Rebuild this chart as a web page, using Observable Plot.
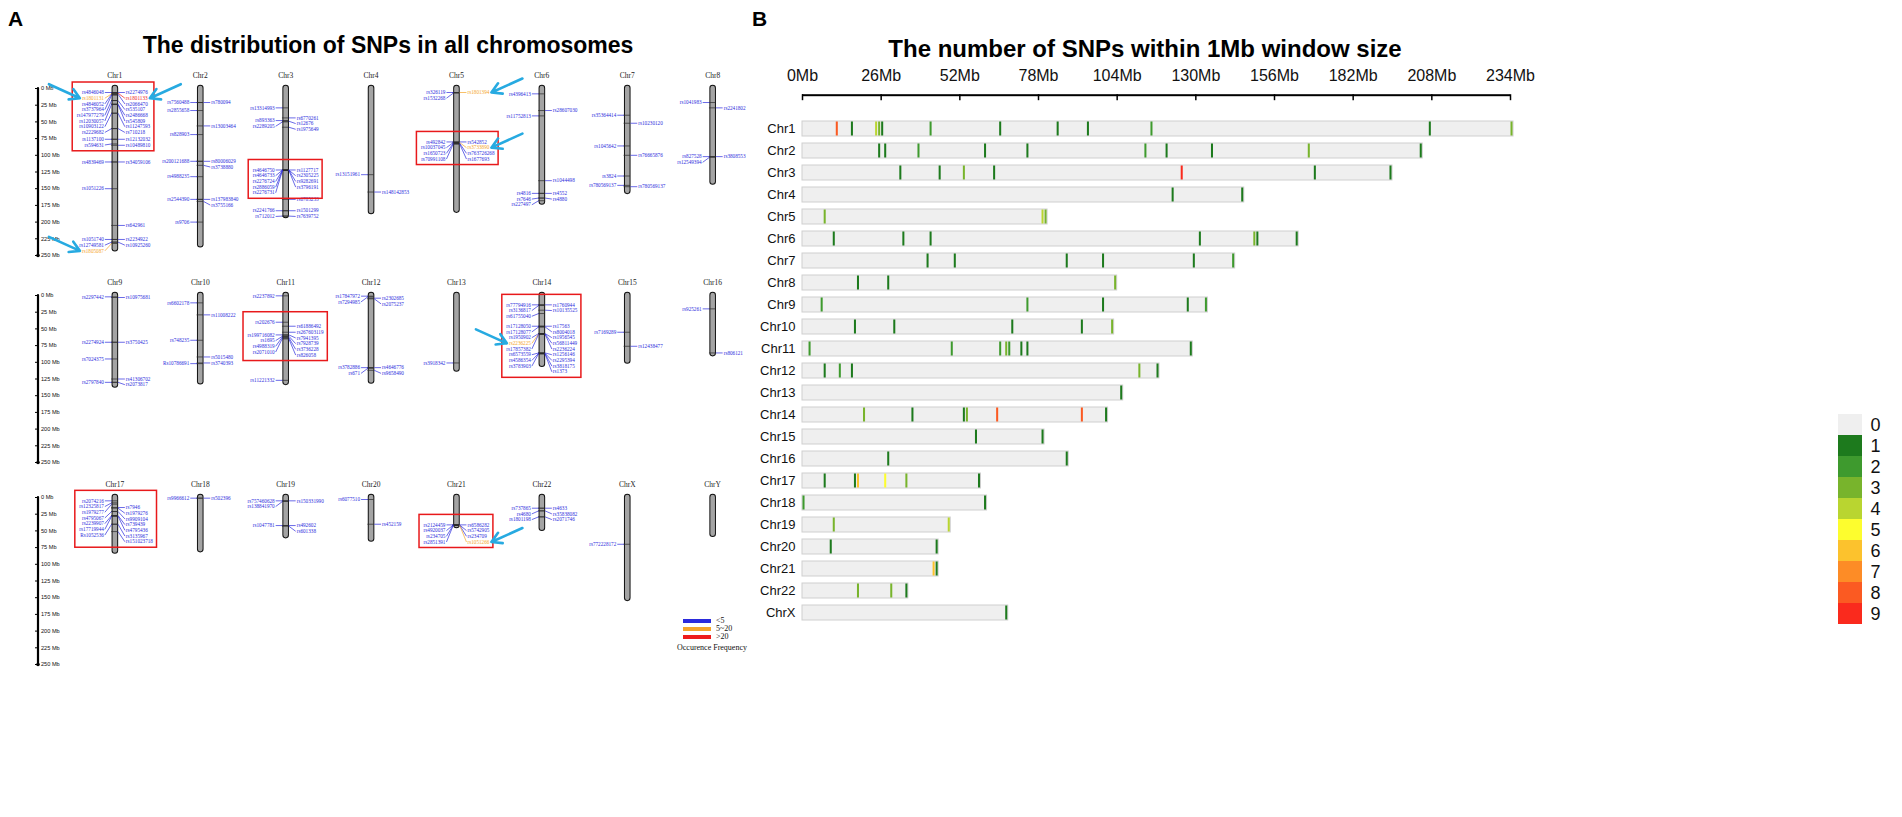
<!DOCTYPE html>
<html>
<head>
<meta charset="utf-8">
<script src="https://cdn.jsdelivr.net/npm/d3@7"></script>
<script src="https://cdn.jsdelivr.net/npm/@observablehq/plot@0.6"></script>
<style>
html, body { margin: 0; padding: 0; background: #ffffff; }
#root { position: relative; width: 1902px; height: 817px; overflow: hidden; background: #fff; font-family: "Liberation Sans", Arial, sans-serif; }
#root > * { position: absolute; }
.letter { font: bold 21px "Liberation Sans", Arial, sans-serif; line-height: 1; }
.title { font: bold 23px "Liberation Sans", Arial, sans-serif; white-space: nowrap; line-height: 1; transform: translateX(-50%); }
svg { overflow: visible; }
</style>
</head>
<body>
<div id="root"></div>
<script>
// ================= DATA : panel A (ideogram) =================
const chromosomes = ["Chr1","Chr2","Chr3","Chr4","Chr5","Chr6","Chr7","Chr8",
  "Chr9","Chr10","Chr11","Chr12","Chr13","Chr14","Chr15","Chr16",
  "Chr17","Chr18","Chr19","Chr20","Chr21","Chr22","ChrX","ChrY"];
const chromLengthsMb = [240, 234, 190, 184, 182, 170, 154, 140,
  134, 129, 130, 128, 110, 103, 98, 87,
  80, 78, 57, 62, 42, 46, 151, 55];
const scaleTicksMb = [0, 25, 50, 75, 100, 125, 150, 175, 200, 225, 250];

// [chromosome, SNP, position (Mb), side of the label]
const snpRows = [
  ["Chr1","rs4846048",6,"L"],["Chr1","rs1801131",8,"L"],["Chr1","rs4846052",8.5,"L"],["Chr1","rs3737964",10,"L"],
  ["Chr1","rs147977279",18,"L"],["Chr1","rs12030057",23.5,"L"],["Chr1","rs10903122",37,"L"],["Chr1","rs2229682",60,"L"],
  ["Chr1","rs1137100",76,"L"],["Chr1","rs594631",83,"L"],
  ["Chr1","rs2274976",6,"R"],["Chr1","rs1801133",7,"R"],["Chr1","rs2066470",8.5,"R"],["Chr1","rs535107",18,"R"],
  ["Chr1","rs2486668",23.5,"R"],["Chr1","rs545809",24,"R"],["Chr1","rs11247593",37,"R"],["Chr1","rs710218",60,"R"],
  ["Chr1","rs12132032",76,"R"],["Chr1","rs10489810",85,"R"],
  ["Chr1","rs4839469",110,"L"],["Chr1","rs34059106",110,"R"],["Chr1","rs1051226",150,"L"],["Chr1","rs642961",205,"R"],
  ["Chr1","rs1051740",226,"L"],["Chr1","rs12749581",230,"L"],["Chr1","rs1805087",232,"L"],
  ["Chr1","rs2234922",226,"R"],["Chr1","rs10925260",230,"R"],
  ["Chr2","rs7560488",21,"L"],["Chr2","rs780094",21,"R"],["Chr2","rs2855658",33,"L"],["Chr2","rs13003464",56,"R"],
  ["Chr2","rs828903",69,"L"],["Chr2","rs200121688",109,"L"],["Chr2","rs80006029",109,"R"],["Chr2","rs3738880",115,"R"],
  ["Chr2","rs4988235",132,"L"],["Chr2","rs2544390",166,"L"],["Chr2","rs137983840",166,"R"],["Chr2","rs3755166",169,"R"],
  ["Chr2","rs9706",200,"L"],
  ["Chr3","rs13314993",29,"L"],["Chr3","rs893363",48,"L"],["Chr3","rs2289205",50,"L"],
  ["Chr3","rs6770261",44,"R"],["Chr3","rs12676",49,"R"],["Chr3","rs1975649",58,"R"],
  ["Chr3","rs4646750",122,"L"],["Chr3","rs4646733",122.2,"L"],["Chr3","rs2276724",122.4,"L"],["Chr3","rs2886059",122.6,"L"],["Chr3","rs2276731",122.8,"L"],
  ["Chr3","rs1127717",122,"R"],["Chr3","rs2305225",122.2,"R"],["Chr3","rs9282691",122.4,"R"],["Chr3","rs3796191",122.6,"R"],
  ["Chr3","rs6785233",166,"R"],["Chr3","rs2241766",183,"L"],["Chr3","rs712012",191,"L"],
  ["Chr3","rs1501299",183,"R"],["Chr3","rs7639752",191,"R"],
  ["Chr4","rs13151961",129,"L"],["Chr4","rs148142853",155,"R"],
  ["Chr5","rs326119",6,"L"],["Chr5","rs1532268",7,"L"],["Chr5","rs1801394",6,"R"],
  ["Chr5","rs492842",80,"L"],["Chr5","rs10037045",81,"L"],["Chr5","rs1650723",82,"L"],["Chr5","rs70991108",83,"L"],
  ["Chr5","rs542852",80,"R"],["Chr5","rs3733890",81,"R"],["Chr5","rs763726268",82,"R"],["Chr5","rs1677693",83,"R"],
  ["Chr6","rs4396413",8,"L"],["Chr6","rs28607030",33,"R"],["Chr6","rs11752813",41,"L"],["Chr6","rs1044498",138,"R"],
  ["Chr6","rs4816",157,"L"],["Chr6","rs4552",157,"R"],["Chr6","rs7646",164,"L"],["Chr6","rs4880",164,"R"],["Chr6","rs227497",168,"L"],
  ["Chr7","rs35364414",40,"L"],["Chr7","rs10230120",52,"R"],["Chr7","rs1045642",86,"L"],["Chr7","rs76665876",100,"R"],
  ["Chr7","rs3824",131,"L"],["Chr7","rs780569137",145,"L"],["Chr7","rs780569137",147,"R"],
  ["Chr8","rs1041983",21,"L"],["Chr8","rs2241802",29,"R"],["Chr8","rs827528",102,"L"],["Chr8","rs12549394",103,"L"],["Chr8","rs3808553",102,"R"],
  ["Chr9","rs2297442",2,"L"],["Chr9","rs10975681",3,"R"],["Chr9","rs2274924",70,"L"],["Chr9","rs3750425",70,"R"],
  ["Chr9","rs7024375",95,"L"],["Chr9","rs41306702",125,"R"],["Chr9","rs2797840",130,"L"],["Chr9","rs2073817",130,"R"],
  ["Chr10","rs6602178",11,"L"],["Chr10","rs11008222",29,"R"],["Chr10","rs748235",67,"L"],["Chr10","rs5015480",92,"R"],
  ["Chr10","Rs10786691",102,"L"],["Chr10","rs3740393",101,"R"],
  ["Chr11","rs2237892",0.5,"L"],["Chr11","rs202676",40,"L"],["Chr11","rs199716082",59,"L"],["Chr11","rs1695",61,"L"],
  ["Chr11","rs4988319",62,"L"],["Chr11","rs2071010",64,"L"],
  ["Chr11","rs61886492",46,"R"],["Chr11","rs267603119",55,"R"],["Chr11","rs7941395",59,"R"],["Chr11","rs7928739",61,"R"],
  ["Chr11","rs3736228",63,"R"],["Chr11","rs826058",65,"R"],["Chr11","rs11221332",127,"L"],
  ["Chr12","rs17847972",1,"L"],["Chr12","rs7294985",2,"L"],["Chr12","rs2302685",4,"R"],["Chr12","rs2075237",5,"R"],
  ["Chr12","rs3782886",108,"L"],["Chr12","rs671",109,"L"],["Chr12","rs4646776",108,"R"],["Chr12","rs9658490",112,"R"],
  ["Chr13","rs3918342",101,"L"],
  ["Chr14","rs77794916",14,"L"],["Chr14","rs3136817",15,"L"],["Chr14","rs61755040",27,"L"],["Chr14","rs17128050",46,"L"],
  ["Chr14","rs17128077",47,"L"],["Chr14","rs1950902",57,"L"],["Chr14","rs2236225",57.5,"L"],["Chr14","rs17857382",58,"L"],
  ["Chr14","rs6573559",86,"L"],["Chr14","rs4586354",86.5,"L"],["Chr14","rs3783903",87,"L"],
  ["Chr14","rs1760944",14,"R"],["Chr14","rs10135525",22,"R"],["Chr14","rs17563",46,"R"],["Chr14","rs8004018",47,"R"],
  ["Chr14","rs1956545",57,"R"],["Chr14","rs56811449",57.5,"R"],["Chr14","rs2236224",58,"R"],["Chr14","rs1256146",86,"R"],
  ["Chr14","rs2295394",86.5,"R"],["Chr14","rs3818175",87,"R"],["Chr14","rs1373",87.5,"R"],
  ["Chr15","rs7169289",55,"L"],["Chr15","rs12438477",76,"R"],
  ["Chr16","rs925261",20,"L"],["Chr16","rs806121",86,"R"],
  ["Chr17","rs2074216",5,"L"],["Chr17","rs12325817",8,"L"],["Chr17","rs1979277",10,"L"],["Chr17","rs4795067",21,"L"],
  ["Chr17","rs2239907",27,"L"],["Chr17","rs17719944",28,"L"],["Chr17","Rs1052536",40,"L"],
  ["Chr17","rs7946",15,"R"],["Chr17","rs1979276",16,"R"],["Chr17","rs9909104",21,"R"],["Chr17","rs739439",27,"R"],
  ["Chr17","rs4795436",28,"R"],["Chr17","rs3135967",40,"R"],["Chr17","rs151023718",51,"R"],
  ["Chr18","rs9966612",1,"L"],["Chr18","rs502396",1,"R"],
  ["Chr19","rs757460628",5,"L"],["Chr19","rs138841970",6,"L"],["Chr19","rs150331990",5,"R"],
  ["Chr19","rs1047781",42,"L"],["Chr19","rs492602",42,"R"],["Chr19","rs601338",43,"R"],
  ["Chr20","rs6077510",3,"L"],["Chr20","rs452159",40,"R"],
  ["Chr21","rs2124459",41,"L"],["Chr21","rs4920037",41.2,"L"],["Chr21","rs234705",41.4,"L"],["Chr21","rs2851391",41.6,"L"],
  ["Chr21","rs6586282",41,"R"],["Chr21","rs5742905",41.2,"R"],["Chr21","rs234709",41.4,"R"],["Chr21","rs1051266",41.6,"R"],
  ["Chr22","rs737865",16,"L"],["Chr22","rs4680",20,"L"],["Chr22","rs1801198",29,"L"],
  ["Chr22","rs4633",16,"R"],["Chr22","rs35838082",20,"R"],["Chr22","rs2071746",29,"R"],
  ["ChrX","rs772228172",70,"L"]
];
const snps5to20 = ["rs1801131","rs1805087","rs1801394","rs3733890","rs2236225","rs1051266"];
const snpsOver20 = ["rs1801133"];
const arrowedSnps = ["rs1801131","rs1801133","rs1805087","rs1801394","rs3733890","rs2236225","rs1051266"];
// [chromosome, from Mb, to Mb] clusters that are framed in red
const boxedClusters = [["Chr1",0,100],["Chr3",115,130],["Chr5",75,90],["Chr11",35,70],["Chr14",10,95],["Chr17",0,55],["Chr21",38,45]];
const freqClasses = ["<5","5~20",">20"];
const freqColors = ["#2b2bdc","#f5a52a","#ee1c1c"];

// ================= DATA : panel B (1 Mb windows) =================
const densityChroms = ["Chr1","Chr2","Chr3","Chr4","Chr5","Chr6","Chr7","Chr8","Chr9","Chr10","Chr11",
  "Chr12","Chr13","Chr14","Chr15","Chr16","Chr17","Chr18","Chr19","Chr20","Chr21","Chr22","ChrX"];
const mbTicks = [0, 26, 52, 78, 104, 130, 156, 182, 208, 234];
const countLevels = [0,1,2,3,4,5,6,7,8,9];
const countColors = ["#efefef","#1d7a1d","#3e9a2e","#78b42c","#b9d530","#fdfd2e","#fcc22d","#fd8c26","#fb5a22","#fa2a1d"];
// [chromosome, window start (Mb), number of SNPs]
const densityBins = [
  ["Chr1",11,8],["Chr1",16,1],["Chr1",24,4],["Chr1",25,3],["Chr1",26,1],["Chr1",42,2],["Chr1",65,1],["Chr1",84,1],
  ["Chr1",94,1],["Chr1",115,2],["Chr1",207,1],["Chr1",234,3],
  ["Chr2",25,1],["Chr2",27,1],["Chr2",38,2],["Chr2",60,1],["Chr2",74,1],["Chr2",113,2],["Chr2",120,1],["Chr2",135,1],
  ["Chr2",167,3],["Chr2",204,1],
  ["Chr3",32,1],["Chr3",45,1],["Chr3",53,3],["Chr3",63,1],["Chr3",125,9],["Chr3",169,1],["Chr3",194,1],
  ["Chr4",122,1],["Chr4",145,1],
  ["Chr5",7,3],["Chr5",79,4],["Chr5",80,3],
  ["Chr6",10,1],["Chr6",33,1],["Chr6",42,1],["Chr6",131,1],["Chr6",149,3],["Chr6",150,1],["Chr6",163,1],
  ["Chr7",41,1],["Chr7",50,1],["Chr7",87,1],["Chr7",99,1],["Chr7",129,1],["Chr7",142,2],
  ["Chr8",18,1],["Chr8",28,1],["Chr8",103,3],
  ["Chr9",6,2],["Chr9",74,2],["Chr9",99,1],["Chr9",127,1],["Chr9",133,2],
  ["Chr10",17,1],["Chr10",30,1],["Chr10",69,1],["Chr10",92,1],["Chr10",102,3],
  ["Chr11",2,2],["Chr11",49,2],["Chr11",65,2],["Chr11",67,3],["Chr11",68,2],["Chr11",72,1],["Chr11",74,1],["Chr11",128,1],
  ["Chr12",7,1],["Chr12",12,2],["Chr12",16,1],["Chr12",111,3],["Chr12",117,1],
  ["Chr13",105,1],
  ["Chr14",20,3],["Chr14",36,1],["Chr14",53,1],["Chr14",54,3],["Chr14",64,8],["Chr14",92,8],["Chr14",100,1],
  ["Chr15",57,1],["Chr15",79,1],
  ["Chr16",28,1],["Chr16",87,1],
  ["Chr17",7,1],["Chr17",17,1],["Chr17",18,6],["Chr17",27,5],["Chr17",34,3],["Chr17",58,1],
  ["Chr18",0,2],["Chr18",60,1],
  ["Chr19",10,3],["Chr19",48,4],
  ["Chr20",9,1],["Chr20",44,1],
  ["Chr21",43,6],["Chr21",44,1],
  ["Chr22",18,3],["Chr22",29,3],["Chr22",34,1],
  ["ChrX",67,1]
];

// ================= layout =================
const root = document.getElementById("root");
function addDiv(text, cls, left, top, extra = "") {
  const d = document.createElement("div");
  d.textContent = text; d.className = cls;
  d.style.cssText += `left:${left}px;top:${top}px;${extra}`;
  root.appendChild(d); return d;
}
function addNode(node, left, top) {
  node.style.position = "absolute"; node.style.left = left + "px"; node.style.top = top + "px";
  root.appendChild(node); return node;
}

addDiv("A", "letter", 8, 8);
addDiv("B", "letter", 752, 8);
addDiv("The distribution of SNPs in all chromosomes", "title", 388, 34);
addDiv("The number of SNPs within 1Mb window size", "title", 1145, 37, "font-size:24px;");

// ---------- Panel A ----------
const colPx = 85.4, scaleCol = -0.9, x0px = 37.5;
const mbPx = 0.668, yTop = 26;
const rowTops = [62.2, 268.8, 471.2];
const labelFont = 5.2, gapPx = 5.7, chromHalfPx = 3.2, labelGapPx = 11;
const gapMb = gapPx / mbPx;
const textWidth = id => labelFont * (0.72 + (id.length - 2) * 0.5);
const freqOf = id => snpsOver20.includes(id) ? 2 : snps5to20.includes(id) ? 1 : 0;

const snps = snpRows.map(([chr, id, pos, side]) => {
  const ci = chromosomes.indexOf(chr);
  return {chr, id, pos, side, row: Math.floor(ci / 8), col: ci % 8, w: textWidth(id), color: freqColors[freqOf(id)], s: side === "L" ? -1 : 1};
});
d3.group(snps, d => d.chr, d => d.side).forEach(bySide => bySide.forEach(list => {
  list.sort((a, b) => a.pos - b.pos);
  let prev = -Infinity;
  for (const d of list) { d.ly = Math.max(d.pos, prev + gapMb); prev = d.ly; }
}));

const boxes = boxedClusters.map(([chr, from, to]) => {
  const ci = chromosomes.indexOf(chr), col = ci % 8;
  const m = snps.filter(d => d.chr === chr && d.pos >= from && d.pos <= to);
  const lw = d3.max(m.filter(d => d.side === "L"), d => d.w) ?? 0;
  const rw = d3.max(m.filter(d => d.side === "R"), d => d.w) ?? 0;
  return {row: Math.floor(ci / 8),
    x1: col - (labelGapPx + lw + 4) / colPx, x2: col + (labelGapPx + rw + 4) / colPx,
    y1: d3.min(m, d => Math.min(d.pos, d.ly)) - 10 / mbPx, y2: d3.max(m, d => d.ly) + 6 / mbPx};
});
const arrows = snps.filter(d => arrowedSnps.includes(d.id)).map(d => {
  const tip = d.col + d.s * (labelGapPx + d.w + 2) / colPx;
  return {row: d.row, x2: tip, y2: d.ly, x1: tip + d.s * 31 / colPx, y1: d.ly - 14 / mbPx};
});

function rowPlot(r) {
  const chroms = chromosomes.map((name, i) => ({name, i, len: chromLengthsMb[i], col: i % 8}))
    .filter(d => Math.floor(d.i / 8) === r);
  const rs = snps.filter(d => d.row === r);
  const labelOpts = {x: d => d.col + d.s * labelGapPx / colPx, y: "ly", text: "id", fill: "color", fontSize: labelFont, fontFamily: "Liberation Serif"};
  return Plot.plot({
    width: 790, height: 215, margin: 0,
    x: {domain: [scaleCol, 7], range: [x0px, x0px + (7 - scaleCol) * colPx], axis: null},
    y: {domain: [0, 250], range: [yTop, yTop + 250 * mbPx], axis: null},
    style: {background: "transparent", overflow: "visible"},
    marks: [
      // scale bar
      Plot.ruleX([scaleCol], {y1: () => d3.min(scaleTicksMb), y2: () => d3.max(scaleTicksMb), stroke: "black", strokeWidth: 2.2, strokeLinecap: "round"}),
      Plot.ruleY(scaleTicksMb, {y: d => d, x1: scaleCol - 2.5 / colPx, x2: scaleCol, stroke: "black", strokeWidth: 1}),
      Plot.dot([d3.max(scaleTicksMb)], {x: scaleCol, y: d => d, r: 1.8, fill: "black"}),
      Plot.text(scaleTicksMb, {x: scaleCol, y: d => d, text: d => `${d} Mb`, dx: 3, textAnchor: "start", fontSize: 5.6, fontFamily: "Liberation Sans", fill: "#111"}),
      // chromosome names and bodies
      Plot.text(chroms, {x: "col", y: () => 0, text: "name", dy: -13, fontSize: 7.5, fontFamily: "Liberation Serif", fill: "#222"}),
      Plot.ruleX(chroms, {x: "col", y1: () => 0, y2: "len", stroke: "#111", strokeWidth: 6.6, strokeLinecap: "round"}),
      Plot.ruleX(chroms, {x: "col", y1: () => 0, y2: "len", stroke: "#a4a4a4", strokeWidth: 4.6, strokeLinecap: "round"}),
      // SNP positions on the chromosome
      Plot.ruleY(rs, {y: "pos", x1: d => d.col - chromHalfPx / colPx, x2: d => d.col + chromHalfPx / colPx, stroke: "#2a2a2a", strokeWidth: 0.7}),
      // leaders + labels
      Plot.link(rs, {x1: d => d.col + d.s * chromHalfPx / colPx, y1: "pos", x2: d => d.col + d.s * (labelGapPx - 1) / colPx, y2: "ly", stroke: "color", strokeWidth: 0.7}),
      Plot.text(rs.filter(d => d.side === "L"), {...labelOpts, textAnchor: "end"}),
      Plot.text(rs.filter(d => d.side === "R"), {...labelOpts, textAnchor: "start"}),
      // red frames and cyan arrows
      Plot.rect(boxes.filter(b => b.row === r), {x1: "x1", x2: "x2", y1: "y1", y2: "y2", fill: "none", stroke: "#e8191b", strokeWidth: 1.5}),
      Plot.arrow(arrows.filter(a => a.row === r), {x1: "x1", y1: "y1", x2: "x2", y2: "y2", stroke: "#27aae1", strokeWidth: 2.6, headLength: 8})
    ]
  });
}
rowTops.forEach((top, r) => addNode(rowPlot(r), 0, top));

// legend of panel A
const leg = document.createElement("div");
leg.style.cssText = "font-family:'Liberation Serif',serif;font-size:8px;color:#111;line-height:8px;";
freqClasses.forEach((c, i) => {
  const row = document.createElement("div");
  row.style.cssText = "display:flex;align-items:center;height:8px;";
  row.innerHTML = `<span style="display:inline-block;width:28px;height:3.5px;background:${freqColors[i]};margin-right:5px"></span><span>${c}</span>`;
  leg.appendChild(row);
});
const legT = document.createElement("div");
legT.textContent = "Occurence Frequency";
legT.style.cssText = "margin-left:-6px;margin-top:3px;font-size:8px;";
leg.appendChild(legT);
addNode(leg, 683, 617);

// ---------- Panel B ----------
const spans = densityChroms.map(chr => ({chr, end: d3.max(densityBins.filter(b => b[0] === chr), b => b[1] + 1)}));
const bins = densityBins.map(([chr, start, count]) => ({chr, start, count}));
const bW = 830, bH = 590, bTop = 32.2, bBottom = 5.4;
const innerH = bH - bTop - bBottom;
const heat = Plot.plot({
  width: bW, height: bH, marginLeft: 102, marginRight: 20, marginTop: bTop, marginBottom: bBottom,
  x: {domain: [d3.min(mbTicks), d3.max(mbTicks)], axis: null, label: null},
  y: {domain: densityChroms, paddingInner: 0.3, paddingOuter: 0.66, axis: null, label: null},
  color: {type: "ordinal", domain: countLevels, range: countColors},
  style: {background: "transparent", overflow: "visible"},
  marks: [
    Plot.barX(spans, {x: "end", y: "chr", fill: countColors[0], stroke: "#cfcfcf", strokeWidth: 1}),
    Plot.barX(bins, {x1: "start", x2: d => d.start + 1, y: "chr", fill: "count", insetLeft: 0.5, insetRight: 0.5, insetTop: 0.5, insetBottom: 0.5}),
    Plot.axisY({anchor: "left", tickSize: 0, tickPadding: 7, fontSize: 13, fontFamily: "Liberation Sans, Arial, sans-serif", fill: "#111", label: null}),
    Plot.axisX(mbTicks, {anchor: "top", tickSize: 0, tickPadding: 14, tickFormat: d => `${d}Mb`, fontSize: 16, fontFamily: "Liberation Sans, Arial, sans-serif", fill: "#111", label: null}),
    Plot.tickX(mbTicks, {x: d => d, insetBottom: innerH - 6, stroke: "black", strokeWidth: 1.5}),
    Plot.rect([mbTicks], {x1: d => d3.min(d), x2: d => d3.max(d), insetBottom: innerH - 2, fill: "black"})
  ]
});
addNode(heat, 700, 62);

// colour bar
const bar = Plot.plot({
  width: 80, height: 240, marginLeft: 18, marginRight: 38, marginTop: 10, marginBottom: 12,
  x: {domain: [0, 1], axis: null},
  y: {domain: countLevels, padding: 0, axis: null},
  color: {type: "ordinal", domain: countLevels, range: countColors},
  style: {background: "transparent", overflow: "visible"},
  marks: [
    Plot.barX(countLevels, {x: 1, y: d => d, fill: d => d}),
    Plot.axisY({anchor: "right", tickSize: 0, tickPadding: 8, fontSize: 18, fontFamily: "Liberation Sans, Arial, sans-serif", fill: "#111", label: null})
  ]
});
addNode(bar, 1820, 400);
</script>
</body>
</html>
